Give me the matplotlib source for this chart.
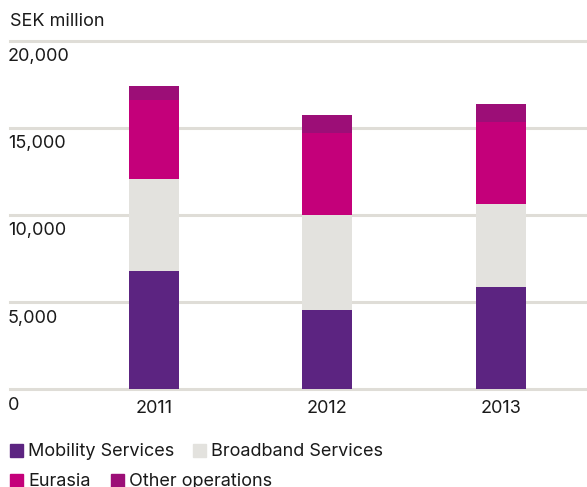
import numpy as np
import matplotlib.pyplot as plt
from matplotlib.patches import Rectangle

plt.rcParams['font.family'] = ['Inter', 'DejaVu Sans']

years = ['2011', '2012', '2013']
mobility = np.array([6790, 4550, 5870])
broadband = np.array([5280, 5440, 4760])
eurasia = np.array([4530, 4680, 4710])
other = np.array([800, 1030, 1030])

series = [('Mobility Services', mobility, '#5c2481'),
          ('Broadband Services', broadband, '#e3e2de'),
          ('Eurasia', eurasia, '#c4007a'),
          ('Other operations', other, '#9c0e77')]

W, H = 587, 487
FS = 13
fig = plt.figure(figsize=(W / 100, H / 100), dpi=100)
ax = fig.add_axes([10 / W, (H - 389.3) / H, 577 / W, (389.3 - 40.5) / H])

x = np.arange(len(years))
bottom = np.zeros(len(years))
for name, vals, col in series:
    ax.bar(x, vals, bottom=bottom, width=0.288, color=col, zorder=3)
    bottom = bottom + vals

ax.set_xlim(-0.83, 2.496)
ax.set_ylim(0, 20000)

grid = '#dfddd7'
for v in range(0, 20001, 5000):
    ax.axhline(v, color=grid, lw=2.2, zorder=1, clip_on=False)
    ax.annotate(f'{v:,}', xy=(0, v), xycoords=('axes fraction', 'data'),
                xytext=(-2, -16), textcoords='offset pixels',
                ha='left', va='center', fontsize=FS, color='#1a1a1a')

ax.set_xticks(x)
ax.set_xticklabels(years, fontsize=FS, color='#1a1a1a')
ax.tick_params(axis='x', length=0, pad=7.5)
ax.set_yticks([])
for s in ax.spines.values():
    s.set_visible(False)

fig.text(10 / W, 1 - 22 / H, 'SEK million', ha='left', va='center',
         fontsize=FS, color='#1a1a1a')

# legend rows
legend_pos = [(10, 450), (193, 450), (10, 480), (111, 480)]
for (name, vals, col), (px, py) in zip(series, legend_pos):
    fig.patches.append(Rectangle((px / W, 1 - (py + 6.5) / H), 13 / W, 13 / H,
                                 transform=fig.transFigure, color=col))
    fig.text((px + 18) / W, 1 - (py + 1.5) / H, name, ha='left', va='center',
             fontsize=FS, color='#1a1a1a')

fig.savefig('out.png', dpi=100)
